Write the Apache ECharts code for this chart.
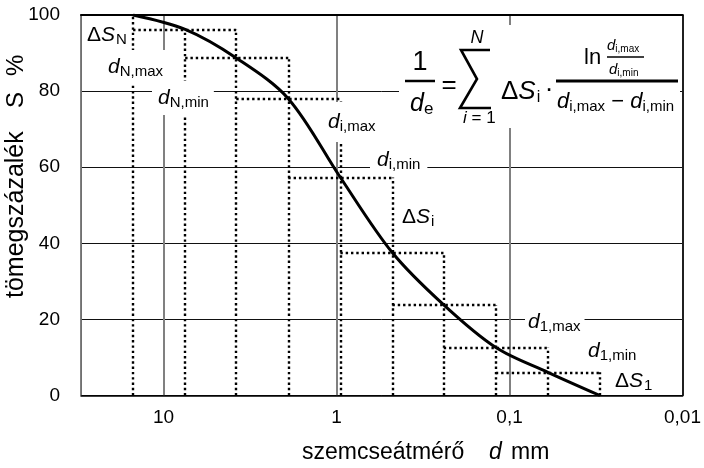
<!DOCTYPE html>
<html>
<head>
<meta charset="utf-8">
<script src="https://cdn.jsdelivr.net/npm/echarts@6/dist/echarts.min.js"></script>
<style>html,body{margin:0;padding:0;background:#fff;}#c{width:704px;height:468px;}</style>
</head>
<body>
<div id="c"></div>
<script>
// ---- data ----
const boundaries = [15, 7.5, 3.8, 1.9, 0.95, 0.475, 0.24, 0.12, 0.06, 0.03]; // mm
const cumulative = [100, 96.2, 88.7, 78.0, 57.3, 37.5, 23.8, 12.6, 6.1, 0];   // % passing at each boundary
const stepTops = [96.2, 88.7, 78.0, 57.3, 37.5, 23.8, 12.6, 6.1];            // top of step i (spans boundaries[i]..boundaries[i+2])
const verticalTops = [100, 96.2, 96.2, 88.7, 78.0, 57.3, 37.5, 23.8, 12.6, 6.1]; // height of dotted verticals
const xTickValues = [0.01, 0.1, 1, 10];
const xTickLabels = ['0,01', '0,1', '1', '10'];
const yTickValues = [0, 20, 40, 60, 80, 100];

const FONT = "'Liberation Sans', Arial, Helvetica, sans-serif";
const cv = document.createElement('canvas').getContext('2d');
function fontStr(p){ return (p.it ? 'italic ' : '') + p.size + 'px ' + FONT; }
function measure(t, p){ cv.font = fontStr(p); return cv.measureText(t).width; }

function run(x, cy, pieces, z) {
  const els = []; let cx = x;
  for (const p of pieces) {
    cx += p.gap || 0;
    els.push({type:'text', z: z || 110, silent:true, x: cx, y: cy + (p.dy || 0),
      style:{text:p.t, fontSize:p.size, fontFamily:FONT, fontStyle:p.it?'italic':'normal',
             fill:'#000', align:'left', verticalAlign:'middle'}});
    cx += measure(p.t, p);
  }
  return {els, end: cx};
}
function bg(x1, x2, y1, y2){
  return {type:'rect', z:105, silent:true, shape:{x:x1, y:y1, width:x2-x1, height:y2-y1}, style:{fill:'#fff'}};
}
function labelD(x, cy, sub, withBg, padL, padR, h){
  const r = run(x, cy, [{t:'d', it:true, size:21}, {t:sub, size:15, dy:5}]);
  const out = [];
  if (withBg) out.push(bg(x - (padL||5), r.end + (padR||5), cy - (h||18), cy + (h||18)));
  return out.concat(r.els);
}
function labelS(x, cy, sub){
  return run(x, cy, [{t:'Δ', size:21}, {t:'S', it:true, size:21}, {t:sub, size:15, dy:5, gap:1}]).els;
}
function hline(x1, x2, y, w){
  return {type:'line', z:110, silent:true, shape:{x1, y1:y, x2, y2:y}, style:{stroke:'#000', lineWidth:w}};
}

const graphics = [];
// annotation labels
graphics.push(...labelS(87, 35, 'N'));
graphics.push(...labelD(108, 67, 'N,max', true, 4, 4, 17));
graphics.push(...labelD(158, 98, 'N,min', true, 6, 5, 17));
graphics.push(...labelD(328, 122, 'i,max', true, 5, 5, 20));
graphics.push(...labelD(377, 160, 'i,min', true, 7, 7, 12));
graphics.push(...labelS(402, 217, 'i'));
graphics.push(...labelD(528, 322, '1,max', true, 3, 4, 12));
graphics.push(...labelD(588, 351, '1,min', true, 3, 4, 12));
graphics.push(...labelS(615, 381, '1'));

// formula
graphics.push(bg(399, 680, 25, 128));
graphics.push({type:'text', z:110, silent:true, x:420, y:63, style:{text:'1', fontSize:27, fontFamily:FONT, fill:'#000', align:'center', verticalAlign:'middle'}});
graphics.push(hline(405, 435, 81, 2.5));
graphics.push(...run(410, 104, [{t:'d', it:true, size:25}, {t:'e', size:17, dy:5}]).els);
graphics.push({type:'text', z:110, silent:true, x:449, y:86, style:{text:'=', fontSize:26, fontFamily:FONT, fill:'#000', align:'center', verticalAlign:'middle'}});
graphics.push({type:'polyline', z:110, silent:true, shape:{points:[[490,50],[461,50],[477,79],[460,108],[491,108]]},
  style:{stroke:'#000', lineWidth:2.6, fill:null, lineJoin:'miter'}});
graphics.push({type:'text', z:110, silent:true, x:477, y:38, style:{text:'N', fontSize:18, fontStyle:'italic', fontFamily:FONT, fill:'#000', align:'center', verticalAlign:'middle'}});
graphics.push(...run(463, 118, [{t:'i', it:true, size:17}, {t:' = 1', size:17}]).els);
graphics.push(...run(501, 92, [{t:'Δ', size:26}, {t:'S', it:true, size:26}, {t:'i', size:16, dy:6, gap:1}]).els);
graphics.push({type:'text', z:110, silent:true, x:549, y:90, style:{text:'·', fontSize:26, fontFamily:FONT, fill:'#000', align:'center', verticalAlign:'middle'}});
graphics.push(hline(556, 678, 81, 3));
graphics.push(...run(584, 58, [{t:'ln', size:22}]).els);
graphics.push(...run(607, 46, [{t:'d', it:true, size:15}, {t:'i,max', size:10, dy:3}]).els);
graphics.push(hline(607, 644, 57, 1.5));
graphics.push(...run(609, 70, [{t:'d', it:true, size:15}, {t:'i,min', size:10, dy:3}]).els);
graphics.push(...run(557, 102, [{t:'d', it:true, size:22}, {t:'i,max', size:15, dy:5}, {t:' − ', size:22},
                                 {t:'d', it:true, size:22}, {t:'i,min', size:15, dy:5}]).els);

// axis names
graphics.push(...run(302, 453, [{t:'szemcseátmérő', size:23}]).els);
graphics.push(...run(489, 453, [{t:'d', it:true, size:23}]).els);
graphics.push(...run(511, 453, [{t:'mm', size:23}]).els);
graphics.push({type:'group', x:16, y:298, rotation:Math.PI/2, children:[
  ...run(0, 0, [{t:'tömegszázalék', size:25}]).els,
  ...run(190, 0, [{t:'S', size:24}]).els,
  ...run(222, 0, [{t:'%', size:24}]).els
]});

// dotted segments built from the data
const segs = [];
boundaries.forEach((d, k) => segs.push({coords:[[d, 0], [d, verticalTops[k]]]}));
stepTops.forEach((s, i) => segs.push({coords:[[boundaries[i], s], [boundaries[i + 2], s]]}));

function xLabel(v){
  for (let i = 0; i < xTickValues.length; i++)
    if (Math.abs(Math.log10(v) - Math.log10(xTickValues[i])) < 1e-6) return xTickLabels[i];
  return '';
}

const chart = echarts.init(document.getElementById('c'), null, {renderer:'canvas'});
chart.setOption({
  animation:false,
  backgroundColor:'#fff',
  grid:{left:81, right:11, top:15, bottom:72.5, containLabel:false},
  xAxis:[{
    type:'log', logBase:10, inverse:true, min:0.01, max:30, position:'bottom',
    axisLine:{onZero:false, lineStyle:{color:'#000', width:1.5}},
    axisTick:{show:false},
    axisLabel:{formatter:xLabel, margin:13, fontSize:19, fontFamily:FONT, color:'#000', showMinLabel:true, showMaxLabel:true},
    splitLine:{show:true, lineStyle:{color:'#808080', width:2}}
  },{
    type:'log', logBase:10, inverse:true, min:0.01, max:30, position:'top',
    axisLine:{onZero:false, lineStyle:{color:'#000', width:2.2}},
    axisTick:{show:false}, axisLabel:{show:false}, splitLine:{show:false}
  }],
  yAxis:[{
    type:'value', min:0, max:100, interval:20, position:'left',
    axisLine:{show:true, onZero:false, lineStyle:{color:'#707070', width:1}},
    axisTick:{show:false},
    axisLabel:{margin:21, fontSize:19, fontFamily:FONT, color:'#000'},
    splitLine:{show:true, lineStyle:{color:'#111', width:1}}
  },{
    type:'value', min:0, max:100, interval:20, position:'right',
    axisLine:{show:true, onZero:false, lineStyle:{color:'#000', width:1.5}},
    axisTick:{show:false}, axisLabel:{show:false}, splitLine:{show:false}
  }],
  series:[{
    type:'lines', coordinateSystem:'cartesian2d', xAxisIndex:0, yAxisIndex:0, silent:true, z:3,
    lineStyle:{color:'#000', width:2.4, type:[2.4, 2.9], opacity:1, curveness:0},
    data:segs
  },{
    type:'line', xAxisIndex:0, yAxisIndex:0, silent:true, z:4,
    smooth:0.33, showSymbol:false, symbol:'none',
    lineStyle:{color:'#000', width:3},
    data:boundaries.map((d, i) => [d, cumulative[i]])
  }],
  graphic:graphics
});
</script>
</body>
</html>
